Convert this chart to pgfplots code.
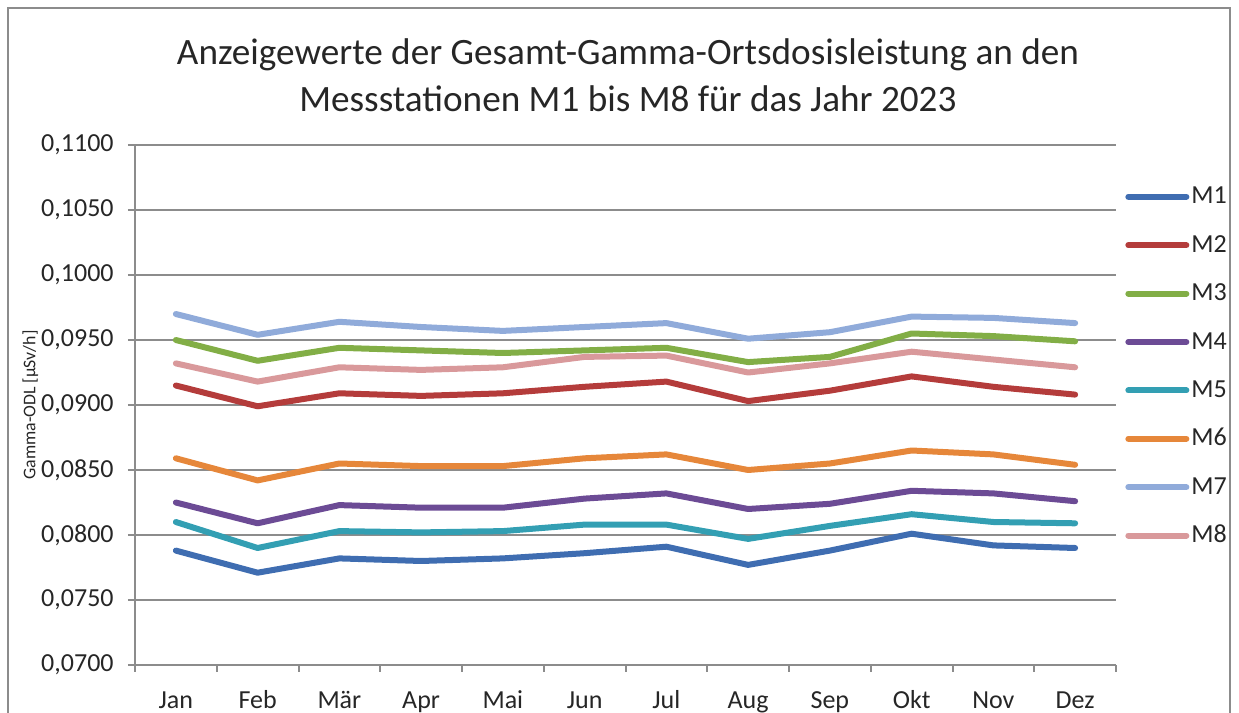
\documentclass[border=0pt]{standalone}
\usepackage{pgfplots}
\pgfplotsset{compat=1.18}
\usepackage{pgfplotstable}
\usepackage{fontspec}
\setmainfont{Carlito}
\definecolor{cM1}{HTML}{3F6DB1}
\definecolor{cM2}{HTML}{B43C3B}
\definecolor{cM3}{HTML}{82AE46}
\definecolor{cM4}{HTML}{6C4B95}
\definecolor{cM5}{HTML}{339FB3}
\definecolor{cM6}{HTML}{E6873A}
\definecolor{cM7}{HTML}{90ABDA}
\definecolor{cM8}{HTML}{D9999B}
\definecolor{gridc}{HTML}{8C8C8C}
\pgfplotstableread{
x M1 M2 M3 M4 M5 M6 M7 M8
0  0.0788 0.0915 0.0950 0.0825 0.0810 0.0859 0.0970 0.0932
1  0.0771 0.0899 0.0934 0.0809 0.0790 0.0842 0.0954 0.0918
2  0.0782 0.0909 0.0944 0.0823 0.0803 0.0855 0.0964 0.0929
3  0.0780 0.0907 0.0942 0.0821 0.0802 0.0853 0.0960 0.0927
4  0.0782 0.0909 0.0940 0.0821 0.0803 0.0853 0.0957 0.0929
5  0.0786 0.0914 0.0942 0.0828 0.0808 0.0859 0.0960 0.0937
6  0.0791 0.0918 0.0944 0.0832 0.0808 0.0862 0.0963 0.0938
7  0.0777 0.0903 0.0933 0.0820 0.0797 0.0850 0.0951 0.0925
8  0.0788 0.0911 0.0937 0.0824 0.0807 0.0855 0.0956 0.0932
9  0.0801 0.0922 0.0955 0.0834 0.0816 0.0865 0.0968 0.0941
10 0.0792 0.0914 0.0953 0.0832 0.0810 0.0862 0.0967 0.0935
11 0.0790 0.0908 0.0949 0.0826 0.0809 0.0854 0.0963 0.0929
}\datatable
\begin{document}
\begin{tikzpicture}[x=1pt,y=1pt]
\useasboundingbox (0,0) rectangle (619.5,356.5);
\draw[gridc, line width=0.6pt] (4,-10) rectangle (615,352.5);
\begin{axis}[
  at={(67.5pt,24pt)}, anchor=south west,
  width=490.5pt, height=260pt, scale only axis,
  xmin=-0.5, xmax=11.5, ymin=0.07, ymax=0.11,
  xtick={0,1,2,3,4,5,6,7,8,9,10,11},
  xticklabels={Jan,Feb,Mär,Apr,Mai,Jun,Jul,Aug,Sep,Okt,Nov,Dez},
  minor xtick={-0.5,0.5,1.5,2.5,3.5,4.5,5.5,6.5,7.5,8.5,9.5,10.5,11.5},
  ytick={0.07,0.075,0.08,0.085,0.09,0.095,0.1,0.105,0.11},
  scaled y ticks=false,
  /pgf/number format/assume math mode=true,
  yticklabel style={/pgf/number format/fixed, /pgf/number format/fixed zerofill, /pgf/number format/precision=4, /pgf/number format/use comma, anchor=east, inner sep=0pt, xshift=-7pt},
  axis x line*=bottom, axis y line*=left,
  axis line style={gridc, line width=1pt},
  ymajorgrids, major grid style={gridc, line width=1pt},
  tick align=outside, major tick length=3.5pt, minor tick length=3.5pt,
  major x tick style={draw=none},
  minor x tick style={gridc, line width=1pt},
  major y tick style={gridc, line width=1pt},
  tick label style={font=\fontsize{13}{15}\selectfont, text=black!85},
  xticklabel style={anchor=base, yshift=-18pt},
  ylabel={Gamma-ODL [µSv/h]},
  ylabel style={at={(axis description cs:-0.1066,0.5)}, anchor=center, font=\fontsize{8.9}{10}\selectfont, text=black!85},
  title={Anzeigewerte der Gesamt-Gamma-Ortsdosisleistung an den\\Messstationen M1 bis M8 für das Jahr 2023},
  title style={at={(axis description cs:0.5025,1.0)}, anchor=south, yshift=7pt, align=center, font=\fontsize{18.6}{23.5}\selectfont, text=black!85},
  legend style={at={(axis description cs:1.003,0.93)}, anchor=north west, draw=none, fill=none,
    font=\fontsize{13}{15}\selectfont, text=black!85, row sep=13.2pt, column sep=1pt,
    nodes={inner sep=0pt, text height=9pt, text depth=2pt}},
  legend cell align=left,
  legend image code/.code={\draw[#1, line cap=round] (0pt,0pt) -- (29pt,0pt);},
  every axis plot/.append style={line width=3pt, line join=round, line cap=round},
]
\addplot[cM1] table[x=x, y=M1] {\datatable};
\addlegendentry{M1}
\addplot[cM2] table[x=x, y=M2] {\datatable};
\addlegendentry{M2}
\addplot[cM3] table[x=x, y=M3] {\datatable};
\addlegendentry{M3}
\addplot[cM4] table[x=x, y=M4] {\datatable};
\addlegendentry{M4}
\addplot[cM5] table[x=x, y=M5] {\datatable};
\addlegendentry{M5}
\addplot[cM6] table[x=x, y=M6] {\datatable};
\addlegendentry{M6}
\addplot[cM7] table[x=x, y=M7] {\datatable};
\addlegendentry{M7}
\addplot[cM8] table[x=x, y=M8] {\datatable};
\addlegendentry{M8}
\end{axis}
\end{tikzpicture}
\end{document}
